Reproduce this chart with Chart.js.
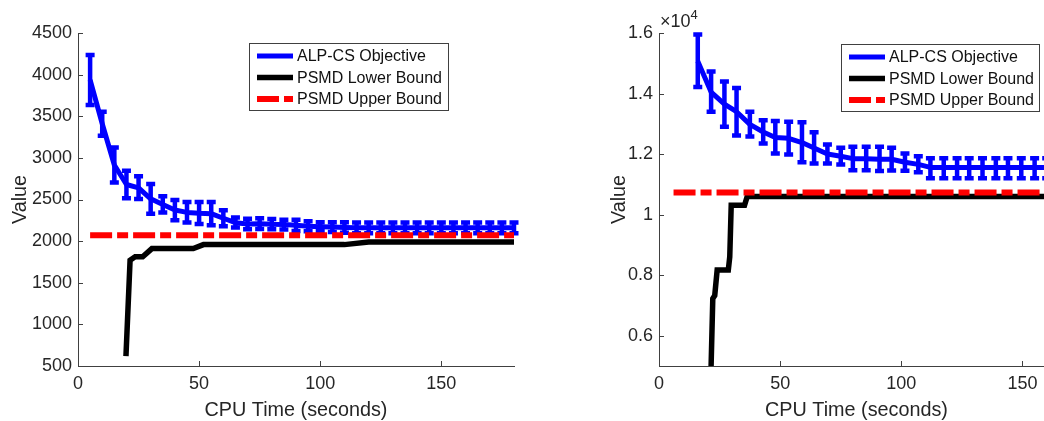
<!DOCTYPE html>
<html>
<head>
<meta charset="utf-8">
<script src="https://cdn.jsdelivr.net/npm/chart.js@4.4.1/dist/chart.umd.min.js"></script>
<style>
html,body{margin:0;padding:0;background:#ffffff;overflow:hidden;width:1044px;height:421px;position:relative;}
canvas{position:absolute;top:0;}
#c1{left:0;}
#c2{left:599px;}
</style>
</head>
<body>
<canvas id="c1" width="540" height="421"></canvas>
<canvas id="c2" width="455" height="421"></canvas>
<script>
// ---------------- data ----------------
const seriesLabels = ['ALP-CS Objective', 'PSMD Lower Bound', 'PSMD Upper Bound'];
const xTitle = 'CPU Time (seconds)';
const yTitle = 'Value';
const xTicks = [0, 50, 100, 150];
const leftYTicks = [500, 1000, 1500, 2000, 2500, 3000, 3500, 4000, 4500];
const rightYTicks = [6000, 8000, 10000, 12000, 14000, 16000];
const rightExponent = 4;
const leftXMax = 180;
const rightXMax = 163;

// Left panel
const leftTime = [5,10,15,20,25,30,35,40,45,50,55,60,65,70,75,80,85,90,95,100,105,110,115,120,125,130,135,140,145,150,155,160,165,170,175,180];
const leftMean = [3936,3410,2914,2680,2640,2508,2440,2374,2345,2335,2330,2275,2222,2205,2210,2203,2200,2190,2180,2174,2170,2164,2160,2160,2160,2160,2160,2160,2160,2160,2160,2160,2160,2160,2160,2160];
const leftHigh = [4235,3555,3125,2845,2780,2685,2540,2495,2470,2470,2470,2370,2285,2270,2275,2265,2258,2258,2240,2228,2228,2226,2224,2224,2224,2224,2224,2224,2224,2224,2224,2224,2224,2224,2224,2224];
const leftLow  = [3635,3265,2705,2515,2505,2330,2345,2250,2225,2205,2190,2180,2165,2142,2145,2142,2140,2122,2120,2120,2110,2100,2095,2095,2095,2095,2095,2095,2095,2095,2095,2095,2095,2095,2095,2095];
const leftLBTime  = [19.8, 21.5, 23.6, 26.7, 30.5, 47.6, 51.8, 110, 120, 180];
const leftLBValue = [619, 1771, 1812, 1812, 1910, 1910, 1958, 1958, 1990, 1990];
const leftUBTime  = [5, 180];
const leftUBValue = [2070, 2070];

// Right panel
const rightTime = [16,21.5,27,32,37.5,43,48,53.5,59,64,69.5,75,80,85.5,91,96,101.5,107,112,117.5,123,128,133.5,139,144,149.5,155,160];
const rightMean = [15070,14050,13650,13400,12980,12730,12550,12520,12380,12200,12000,11930,11850,11850,11830,11830,11730,11660,11560,11560,11560,11560,11560,11560,11560,11560,11560,11560];
const rightHigh = [15950,14730,14400,14180,13400,13120,13090,13070,13050,12720,12320,12210,12240,12240,12240,12210,12020,11930,11860,11860,11860,11860,11860,11860,11860,11860,11860,11860];
const rightLow  = [14220,13400,12900,12610,12580,12350,12020,11990,11730,11690,11690,11660,11470,11470,11440,11460,11450,11400,11200,11200,11200,11200,11200,11200,11200,11200,11200,11200];
const rightLBTime  = [21.5, 22.2, 23.0, 24.0, 28.6, 29.2, 29.8, 35.3, 36.4, 163];
const rightLBValue = [5000, 7230, 7330, 8170, 8170, 8610, 10310, 10310, 10600, 10600];
const rightUBTime  = [6, 163];
const rightUBValue = [10730, 10730];

// ---------------- style ----------------
const FONT = '"Liberation Sans", Arial, Helvetica, sans-serif';
const AXIS = '#404040';
const TXT = '#262626';
const BLUE = '#0000ff', BLACK = '#000000', RED = '#ff0000';

function pts(xs, ys) { return xs.map((x, i) => ({x: x, y: ys[i]})); }

// error bars drawn through the chart's scales
const errorBars = {
  id: 'errorBars',
  afterDatasetDraw(chart, args) {
    const ds = chart.data.datasets[args.index];
    if (!ds.errLow) return;
    const ctx = chart.ctx, xs = chart.scales.x, ys = chart.scales.y;
    const cap = 4.5;
    ctx.save();
    ctx.strokeStyle = ds.borderColor;
    ctx.lineWidth = 4.5;
    ctx.lineCap = 'butt';
    ds.data.forEach((p, i) => {
      const x = xs.getPixelForValue(p.x);
      const yl = ys.getPixelForValue(ds.errLow[i]);
      const yh = ys.getPixelForValue(ds.errHigh[i]);
      ctx.beginPath();
      ctx.moveTo(x, yl); ctx.lineTo(x, yh);
      ctx.moveTo(x - cap, yl); ctx.lineTo(x + cap, yl);
      ctx.moveTo(x - cap, yh); ctx.lineTo(x + cap, yh);
      ctx.stroke();
    });
    ctx.restore();
  }
};

// inward tick marks (MATLAB style)
const innerTicks = {
  id: 'innerTicks',
  afterDraw(chart) {
    const ctx = chart.ctx, xs = chart.scales.x, ys = chart.scales.y, a = chart.chartArea;
    ctx.save();
    ctx.strokeStyle = AXIS; ctx.lineWidth = 1;
    ctx.beginPath();
    xs.ticks.forEach(t => {
      const x = Math.round(xs.getPixelForValue(t.value)) + 0.5;
      ctx.moveTo(x, a.bottom); ctx.lineTo(x, a.bottom - 5);
    });
    ys.ticks.forEach(t => {
      const y = Math.round(ys.getPixelForValue(t.value)) + 0.5;
      ctx.moveTo(a.left, y); ctx.lineTo(a.left + 5, y);
    });
    ctx.stroke();
    ctx.restore();
  }
};

// legend box
const boxLegend = {
  id: 'boxLegend',
  afterDraw(chart, args, o) {
    if (!o || !o.order) return;
    const ctx = chart.ctx;
    ctx.save();
    ctx.fillStyle = '#ffffff';
    ctx.fillRect(o.x, o.y, o.w, o.h);
    ctx.strokeStyle = AXIS; ctx.lineWidth = 1;
    ctx.strokeRect(o.x + 0.5, o.y + 0.5, o.w, o.h);
    o.order.forEach((idx, k) => {
      const ds = chart.data.datasets[idx];
      const yy = o.y + 13 + k * 21.5;
      ctx.beginPath();
      ctx.setLineDash(ds.borderDash || []);
      ctx.lineWidth = ds.borderWidth;
      ctx.strokeStyle = ds.borderColor;
      ctx.lineCap = 'butt';
      ctx.moveTo(o.x + 8, yy); ctx.lineTo(o.x + 44, yy);
      ctx.stroke();
      ctx.setLineDash([]);
      ctx.fillStyle = '#111111';
      ctx.font = '16px ' + FONT;
      ctx.textBaseline = 'middle';
      ctx.textAlign = 'left';
      ctx.fillText(ds.label, o.x + 48, yy + 1);
    });
    ctx.restore();
  }
};

// axis exponent label (x10^n)
const exponentLabel = {
  id: 'exponentLabel',
  afterDraw(chart, args, o) {
    if (!o || !o.power) return;
    const ctx = chart.ctx, a = chart.chartArea;
    ctx.save();
    ctx.fillStyle = TXT;
    ctx.textBaseline = 'alphabetic';
    ctx.textAlign = 'left';
    ctx.font = '18px ' + FONT;
    const base = '\u00d710';
    ctx.fillText(base, a.left + 1, a.top - 6);
    const w = ctx.measureText(base).width;
    ctx.font = '13px ' + FONT;
    ctx.fillText(String(o.power), a.left + 1 + w, a.top - 14);
    ctx.restore();
  }
};

function makeChart(id, cfg) {
  const datasets = [
    { label: seriesLabels[2], data: pts(cfg.ubT, cfg.ubV), borderColor: RED, borderWidth: 6,
      borderDash: [22, 5, 11, 5], borderCapStyle: 'butt', pointRadius: 0, tension: 0, order: 0 },
    { label: seriesLabels[1], data: pts(cfg.lbT, cfg.lbV), borderColor: BLACK, borderWidth: 5.5,
      pointRadius: 0, tension: 0, order: 1, borderJoinStyle: 'miter' },
    { label: seriesLabels[0], data: pts(cfg.t, cfg.mean), borderColor: BLUE, borderWidth: 5,
      pointRadius: 0, tension: 0, order: 2, borderJoinStyle: 'round',
      errLow: cfg.low, errHigh: cfg.high }
  ];
  return new Chart(document.getElementById(id), {
    type: 'line',
    data: { datasets: datasets },
    plugins: [errorBars, innerTicks, boxLegend, exponentLabel],
    options: {
      responsive: false, animation: false, events: [], devicePixelRatio: 1,
      layout: { padding: { left: 0, right: cfg.padRight, top: 33, bottom: 0 } },
      plugins: {
        legend: { display: false }, tooltip: { enabled: false },
        boxLegend: cfg.legend,
        exponentLabel: { power: cfg.power }
      },
      scales: {
        x: {
          type: 'linear', min: 0, max: cfg.xmax,
          afterBuildTicks: s => { s.ticks = xTicks.map(v => ({ value: v })); },
          afterFit: s => { s.height = 55; },
          grid: { display: false, drawTicks: false },
          border: { display: true, color: AXIS, width: 1 },
          ticks: { color: TXT, font: { family: FONT, size: 18 }, padding: 7, maxRotation: 0, autoSkip: false,
                   callback: v => String(v) },
          title: { display: true, text: xTitle, color: TXT, font: { family: FONT, size: 19.8, lineHeight: 1.1 },
                   padding: { top: 0, bottom: 0 } }
        },
        y: {
          type: 'linear', min: cfg.ymin, max: cfg.ymax,
          afterBuildTicks: s => { s.ticks = cfg.yTicks.map(v => ({ value: v })); },
          afterFit: s => { s.width = cfg.yWidth; },
          grid: { display: false, drawTicks: false },
          border: { display: true, color: AXIS, width: 1 },
          ticks: { color: TXT, font: { family: FONT, size: 18 }, padding: 6, autoSkip: false,
                   callback: cfg.fmt },
          title: { display: true, text: yTitle, color: TXT, font: { family: FONT, size: 19.8 },
                   padding: { top: 9, bottom: 0 } }
        }
      }
    }
  });
}

makeChart('c1', {
  t: leftTime, mean: leftMean, low: leftLow, high: leftHigh,
  lbT: leftLBTime, lbV: leftLBValue, ubT: leftUBTime, ubV: leftUBValue,
  xmax: leftXMax, ymin: 500, ymax: 4500, yTicks: leftYTicks, yWidth: 78, padRight: 26,
  fmt: v => String(v), power: 0,
  legend: { x: 249, y: 43, w: 199, h: 67, order: [2, 1, 0] }
});

makeChart('c2', {
  t: rightTime, mean: rightMean, low: rightLow, high: rightHigh,
  lbT: rightLBTime, lbV: rightLBValue, ubT: rightUBTime, ubV: rightUBValue,
  xmax: rightXMax, ymin: 5000, ymax: 16000, yTicks: rightYTicks, yWidth: 60, padRight: 0,
  fmt: v => String(+(v / Math.pow(10, rightExponent)).toFixed(1)), power: rightExponent,
  legend: { x: 242, y: 44, w: 198, h: 67, order: [2, 1, 0] }
});
</script>
</body>
</html>
